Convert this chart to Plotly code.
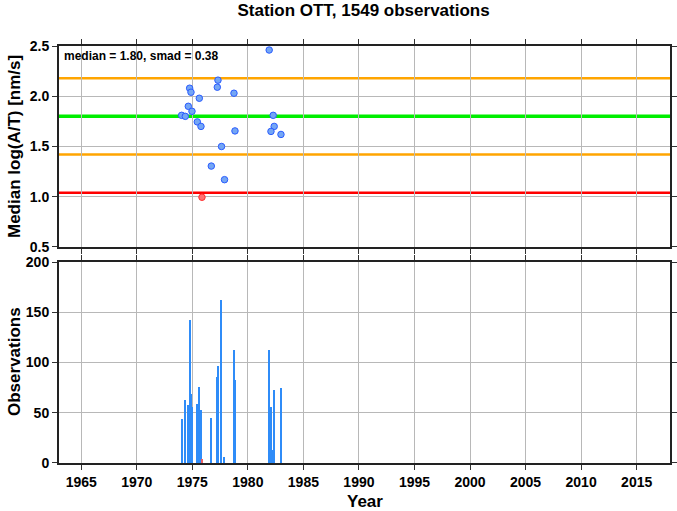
import plotly.graph_objects as go

# ---- data ----
point_years = [1981.92, 1977.31, 1977.25, 1974.76, 1974.88, 1978.75, 1975.63, 1974.64,
               1974.97, 1974.04, 1974.37, 1982.28, 1975.45, 1975.78, 1982.37, 1978.84,
               1982.08, 1982.98, 1977.63, 1976.71, 1977.90]
point_values = [2.46, 2.16, 2.09, 2.08, 2.04, 2.03, 1.98, 1.90,
                1.85, 1.81, 1.80, 1.81, 1.745, 1.70, 1.70, 1.655,
                1.65, 1.62, 1.50, 1.305, 1.17]
outlier_years = [1975.87]
outlier_values = [0.995]

bar_years = [1974.04, 1974.37, 1974.64, 1974.76, 1974.88, 1974.97, 1975.45, 1975.63,
             1975.78, 1976.71, 1977.25, 1977.31, 1977.63, 1977.90, 1978.75, 1978.84,
             1981.92, 1982.08, 1982.28, 1982.37, 1982.98]
bar_counts = [44, 63, 58, 142, 69, 56, 59, 76,
              53, 45, 86, 97, 162, 6, 112, 83,
              112, 56, 13, 73, 75]
outlier_bar_years = [1975.87]
outlier_bar_counts = [4]

median = 1.80
smad = 0.38
title = "Station OTT, 1549 observations"

W, H = 677, 511
ML, MR, MT, MB = 59, 7, 46, 48
PW, PH = W - ML - MR, H - MT - MB

fig = go.Figure()

fig.add_trace(go.Scatter(x=point_years, y=point_values, mode="markers",
                         marker=dict(size=6.5, color="#74a6f4", line=dict(color="#2a5cff", width=1)),
                         xaxis="x", yaxis="y", showlegend=False))
fig.add_trace(go.Scatter(x=outlier_years, y=outlier_values, mode="markers",
                         marker=dict(size=6.5, color="#ff7070", line=dict(color="#ff3030", width=1)),
                         xaxis="x", yaxis="y", showlegend=False))

fig.add_trace(go.Bar(x=bar_years, y=bar_counts, width=0.1,
                     marker=dict(color="#2f8cf8", line=dict(width=0)),
                     xaxis="x2", yaxis="y2", showlegend=False))
fig.add_trace(go.Bar(x=outlier_bar_years, y=outlier_bar_counts, width=0.15,
                     marker=dict(color="#f06060", line=dict(width=0)),
                     xaxis="x2", yaxis="y2", showlegend=False))

lines = [(median + smad, "#ffa500", 2.5), (median, "#00ee00", 3.5),
         (median - smad, "#ffa500", 2.5), (median - 2 * smad, "#ff0000", 2.5)]
for val, col, w in lines:
    fig.add_shape(type="line", xref="x domain", yref="y", x0=0, x1=1, y0=val, y1=val,
                  line=dict(color=col, width=w), layer="below")

font = "Liberation Sans, Arial, sans-serif"
axis_common = dict(showline=True, linecolor="#222", linewidth=2, mirror="allticks",
                   ticks="outside", ticklen=5, tickcolor="#333", showgrid=True,
                   gridcolor="#b8b8b8", gridwidth=1, zeroline=False, automargin=False,
                   tickfont=dict(family=font, size=14, color="black", weight="bold"))

title_font = dict(family=font, size=17, color="black", weight="bold")

fig.update_layout(
    width=W, height=H,
    margin=dict(l=ML, r=MR, t=MT, b=MB),
    paper_bgcolor="white", plot_bgcolor="white",
    bargap=0, barmode="overlay",
    title=dict(text=title, x=0.537, xanchor="center", y=1 - 10 / H, yanchor="middle",
               font=title_font),
    xaxis=dict(range=[1963, 2018], dtick=5, tick0=1965, showticklabels=False,
               anchor="y", **axis_common),
    yaxis=dict(range=[0.5, 2.5], dtick=0.5, tickformat=".1f", domain=[0.518, 1],
               anchor="x", **axis_common),
    xaxis2=dict(range=[1963, 2018], dtick=5, tick0=1965, anchor="y2", matches="x",
                **axis_common),
    yaxis2=dict(range=[0, 200], dtick=50, domain=[0, 0.482], anchor="x2",
                **axis_common),
    annotations=[
        dict(text=f"median = {median:.2f}, smad = {smad:.2f}", xref="x domain", yref="y domain",
             x=0.005, y=0.995, xanchor="left", yanchor="top", showarrow=False,
             font=dict(family=font, size=12, color="black", weight="bold")),
        dict(text="Median log(A/T) [nm/s]", xref="paper", yref="paper",
             x=(14 - ML) / PW, y=(H - MB - 147) / PH, textangle=-90,
             xanchor="center", yanchor="middle", showarrow=False, font=title_font),
        dict(text="Observations", xref="paper", yref="paper",
             x=(14 - ML) / PW, y=(H - MB - 362) / PH, textangle=-90,
             xanchor="center", yanchor="middle", showarrow=False, font=title_font),
        dict(text="Year", xref="paper", yref="paper",
             x=(365 - ML) / PW, y=(H - MB - 501) / PH,
             xanchor="center", yanchor="middle", showarrow=False, font=title_font),
    ],
)

fig.write_html("out.html", config={"displayModeBar": False},
               post_script="document.body.style.margin='0';document.body.style.overflow='hidden';")
